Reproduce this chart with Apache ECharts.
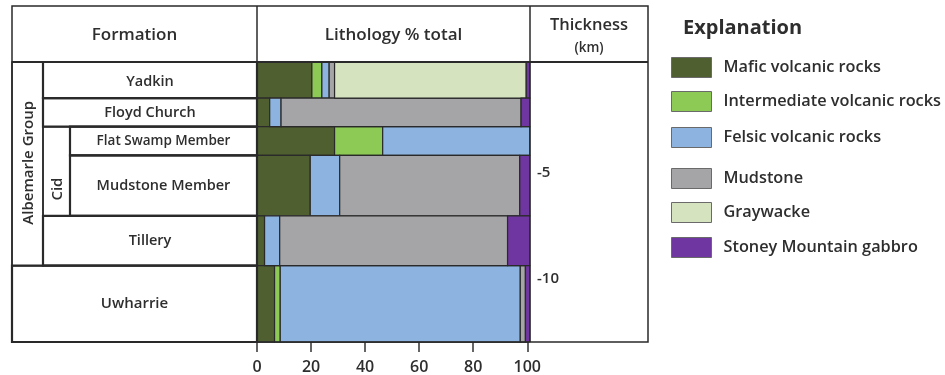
<!DOCTYPE html>
<html>
<head>
<meta charset="utf-8">
<script src="https://cdn.jsdelivr.net/npm/echarts@6/dist/echarts.min.js"></script>
<style>html,body{margin:0;padding:0;background:#fff;}#c{width:945px;height:375px;}</style>
</head>
<body>
<div id="c"></div>
<script>
// ---- data ----
const formations = ['Yadkin', 'Floyd Church', 'Flat Swamp Member', 'Mudstone Member', 'Tillery', 'Uwharrie'];
const rowTops    = [0.2, -1.5, -2.85, -4.2, -7.05, -9.4];     // km
const rowBottoms = [-1.5, -2.85, -4.2, -7.05, -9.4, -13];     // km
const lithologies = ['Mafic volcanic rocks', 'Intermediate volcanic rocks', 'Felsic volcanic rocks', 'Mudstone', 'Graywacke', 'Stoney Mountain gabbro'];
const mafic        = [20.3, 4.7, 28.7, 19.7, 2.8, 6.5];
const intermediate = [3.7, 0, 17.8, 0, 0, 2.1];
const felsic       = [2.7, 4.2, 54.4, 10.9, 5.6, 88.8];
const mudstone     = [2.0, 88.8, 0, 66.6, 84.3, 1.9];
const graywacke    = [70.9, 0, 0, 0, 0, 0];
const gabbro       = [1.3, 3.2, 0, 3.7, 8.2, 1.6];
const thicknessTicks = [-5, -10];

const colors = ['#4f5f2f', '#8dc955', '#8db3e0', '#a5a5a7', '#d6e3bf', '#6f35a0'];
const FONT = "'Open Sans', 'Liberation Sans', sans-serif";
const TXT = '#2e2e2e';

const seriesValues = [mafic, intermediate, felsic, mudstone, graywacke, gabbro];
const cum = formations.map(() => 0);
const litSeries = lithologies.map((name, k) => {
  const data = formations.map((f, i) => {
    const s = cum[i];
    cum[i] += seriesValues[k][i];
    return [s, cum[i], rowTops[i], rowBottoms[i]];
  });
  return {
    type: 'custom', name: name, clip: false,
    itemStyle: { color: colors[k] },
    encode: { x: [0, 1], y: [2, 3] },
    data: data,
    renderItem: function (params, api) {
      const x0 = api.value(0), x1 = api.value(1);
      if (x1 - x0 <= 0) return;
      const p0 = api.coord([x0, api.value(2)]);
      const p1 = api.coord([x1, api.value(3)]);
      return {
        type: 'rect',
        shape: { x: p0[0], y: p0[1], width: p1[0] - p0[0], height: p1[1] - p0[1] },
        style: { fill: api.visual('color'), stroke: '#2a2a2a', lineWidth: 1.2 }
      };
    }
  };
});

// table layout (pixels of label columns)
const cellLeft = [43, 43, 70, 70, 43, 12];
const labelSize = [14.5, 14.5, 13.5, 14.5, 14.5, 15];
const tableSeries = {
  type: 'custom', name: 'table', clip: false, silent: true,
  encode: { y: [1, 2] },
  data: formations.map((f, i) => [i, rowTops[i], rowBottoms[i]]),
  renderItem: function (params, api) {
    const i = api.value(0);
    const yT = api.coord([0, api.value(1)])[1];
    const yB = api.coord([0, api.value(2)])[1];
    const xr = api.coord([0, 0])[0];
    const xl = cellLeft[i];
    const children = [
      { type: 'rect', shape: { x: xl, y: yT, width: xr - xl, height: yB - yT },
        style: { fill: 'none', stroke: '#2a2a2a', lineWidth: 2.2 } },
      { type: 'text', x: (xl + xr) / 2, y: (yT + yB) / 2 + (i === 0 ? 1.5 : 0),
        style: { text: formations[i], fill: TXT, font: '600 ' + labelSize[i] + 'px ' + FONT,
                 align: 'center', verticalAlign: 'middle' } }
    ];
    if (i === 0) {
      const yA = api.coord([0, rowBottoms[4]])[1];
      children.push({ type: 'rect', shape: { x: 12, y: yT, width: 31, height: yA - yT },
        style: { fill: 'none', stroke: '#2a2a2a', lineWidth: 1.5 } });
      children.push({ type: 'text', x: 28.5, y: (yT + yA) / 2 - 1, rotation: Math.PI / 2,
        style: { text: 'Albemarle Group', fill: TXT, font: '600 15px ' + FONT,
                 align: 'center', verticalAlign: 'middle' } });
    }
    if (i === 2) {
      const yC = api.coord([0, rowBottoms[3]])[1];
      children.push({ type: 'rect', shape: { x: 43, y: yT, width: 27, height: yC - yT },
        style: { fill: 'none', stroke: '#2a2a2a', lineWidth: 1.5 } });
      children.push({ type: 'text', x: 58, y: yT + (yC - yT) * 0.7, rotation: Math.PI / 2,
        style: { text: 'Cid', fill: TXT, font: '600 15px ' + FONT,
                 align: 'center', verticalAlign: 'middle' } });
    }
    return { type: 'group', children: children };
  }
};

const chart = echarts.init(document.getElementById('c'));
const legends = lithologies.map((name, k) => ({
  data: [name], left: 671, top: [57, 91, 127, 168, 202, 237][k],
  orient: 'vertical', padding: 0, itemWidth: 40, itemHeight: 20, icon: 'rect',
  itemStyle: { borderColor: '#6a6a6a', borderWidth: 1 },
  selectedMode: false,
  textStyle: { color: TXT, fontFamily: FONT, fontWeight: 600, fontSize: 16.3, padding: [0, 0, 0, 7] }
}));

chart.setOption({
  animation: false,
  grid: { left: 257, top: 62, width: 270.3, height: 280 },
  xAxis: {
    type: 'value', min: 0, max: 100, interval: 20,
    axisLine: { show: true, onZero: false, lineStyle: { color: '#2a2a2a', width: 1.5 } }, splitLine: { show: false },
    axisTick: { show: true, length: 10, lineStyle: { color: '#333', width: 1.5 } },
    axisLabel: { margin: 17, color: TXT, fontFamily: FONT, fontWeight: 600, fontSize: 16 }
  },
  yAxis: {
    type: 'value', min: -13, max: 0.2, position: 'right', offset: 2.7,
    axisLine: { show: false, onZero: false }, splitLine: { show: false }, axisTick: { show: false },
    axisLabel: { customValues: thicknessTicks, margin: 7, align: 'left', color: TXT,
                 fontFamily: FONT, fontWeight: 600, fontSize: 15 }
  },
  legend: legends,
  graphic: [
    { type: 'rect', shape: { x: 12, y: 6, width: 636, height: 336 }, style: { fill: 'none', stroke: '#2a2a2a', lineWidth: 1.5 }, z: 10 },
    { type: 'line', shape: { x1: 12, y1: 62, x2: 648, y2: 62 }, style: { stroke: '#2a2a2a', lineWidth: 2.2 }, z: 10 },
    { type: 'line', shape: { x1: 257, y1: 6, x2: 257, y2: 342 }, style: { stroke: '#2a2a2a', lineWidth: 1.5 }, z: 10 },
    { type: 'line', shape: { x1: 530, y1: 6, x2: 530, y2: 342 }, style: { stroke: '#2a2a2a', lineWidth: 1.5 }, z: 10 },
    { type: 'text', x: 134.5, y: 35, style: { text: 'Formation', fill: TXT, font: '600 17px ' + FONT, align: 'center', verticalAlign: 'middle' } },
    { type: 'text', x: 393.5, y: 35, style: { text: 'Lithology % total', fill: TXT, font: '600 17px ' + FONT, align: 'center', verticalAlign: 'middle' } },
    { type: 'text', x: 589, y: 25, style: { text: 'Thickness', fill: TXT, font: '600 16.5px ' + FONT, align: 'center', verticalAlign: 'middle' } },
    { type: 'text', x: 589, y: 48, style: { text: '(km)', fill: TXT, font: '600 13.5px ' + FONT, align: 'center', verticalAlign: 'middle' } },
    { type: 'text', x: 683, y: 28, style: { text: 'Explanation', fill: TXT, font: '700 20px ' + FONT, align: 'left', verticalAlign: 'middle' } }
  ],
  series: litSeries.concat([tableSeries])
});
</script>
</body>
</html>
